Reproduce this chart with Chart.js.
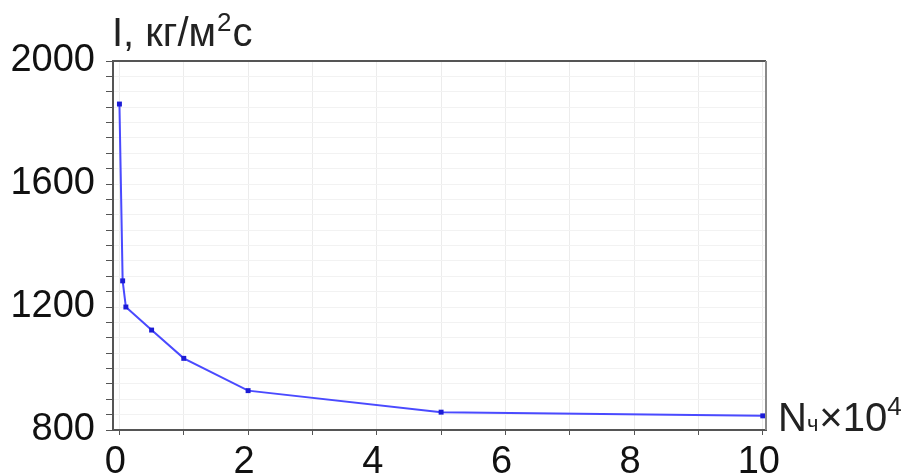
<!DOCTYPE html>
<html>
<head>
<meta charset="utf-8">
<script src="https://cdn.jsdelivr.net/npm/chart.js@4.4.1/dist/chart.umd.min.js"></script>
<style>
    html, body { margin: 0; padding: 0; background: #fff; }
    #wrap { width: 912px; height: 476px; position: relative; }
</style>
</head>
<body>
<div id="wrap"><canvas id="chart" width="912" height="476"></canvas></div>
<script>
// Data
const xValues = [0, 0.05, 0.1, 0.5, 1, 2, 5, 10];
const yValues = [1860, 1285, 1200, 1125, 1033, 928, 858, 846];
const xTicks = [0, 1, 2, 3, 4, 5, 6, 7, 8, 9, 10];
const xTickLabels = ['0', '', '2', '', '4', '', '6', '', '8', '', '10'];
const yTicks = [800, 850, 900, 950, 1000, 1050, 1100, 1150, 1200, 1250, 1300, 1350, 1400,
    1450, 1500, 1550, 1600, 1650, 1700, 1750, 1800, 1850, 1900, 1950, 2000];
const yTickLabels = { 800: '800', 1200: '1200', 1600: '1600', 2000: '2000' };

const fontFamily = '"Liberation Sans", Arial, sans-serif';

// Frame and axis titles
const extras = {
    id: 'extras',
    afterDraw(chart) {
        const ctx = chart.ctx;
        const a = chart.chartArea;
        ctx.save();
        // top and right border of the plot box
        ctx.lineWidth = 2;
        ctx.strokeStyle = '#555';
        ctx.beginPath();
        ctx.moveTo(a.left, a.top);
        ctx.lineTo(a.right, a.top);
        ctx.stroke();
        ctx.strokeStyle = '#8a8a8a';
        ctx.beginPath();
        ctx.moveTo(a.right, a.top);
        ctx.lineTo(a.right, a.bottom);
        ctx.stroke();

        ctx.fillStyle = '#222';
        ctx.textBaseline = 'alphabetic';
        ctx.textAlign = 'left';

        // y title: I, кг/м²с
        let x = a.left - 1;
        let y = 46;
        ctx.font = '40px ' + fontFamily;
        ctx.fillText('I, кг/м', x, y);
        x += ctx.measureText('I, кг/м').width + 1;
        ctx.font = '26px ' + fontFamily;
        ctx.fillText('2', x, y - 15);
        x += ctx.measureText('2').width + 1;
        ctx.font = '40px ' + fontFamily;
        ctx.fillText('с', x, y);

        // x title: Nч×10⁴
        x = a.right + 12;
        y = 431;
        ctx.font = '40px ' + fontFamily;
        ctx.fillText('N', x, y);
        x += ctx.measureText('N').width;
        ctx.font = '22px ' + fontFamily;
        ctx.fillText('ч', x, y);
        x += ctx.measureText('ч').width + 1;
        ctx.font = '40px ' + fontFamily;
        ctx.fillText('×10', x, y);
        x += ctx.measureText('×10').width;
        ctx.font = '26px ' + fontFamily;
        ctx.fillText('4', x, y - 16);
        ctx.restore();
    }
};

const ctx = document.getElementById('chart').getContext('2d');
const chart = new Chart(ctx, {
    type: 'line',
    data: {
        datasets: [{
            data: xValues.map((v, i) => ({ x: v, y: yValues[i] })),
            borderColor: '#4a4aff',
            borderWidth: 2,
            pointStyle: 'rect',
            pointRadius: 3.5,
            pointBackgroundColor: '#1c1cd6',
            pointBorderWidth: 0,
            tension: 0,
            clip: false
        }]
    },
    options: {
        responsive: false,
        animation: false,
        layout: {
            padding: { top: 61, right: 146, left: 0, bottom: 0 }
        },
        plugins: {
            legend: { display: false },
            tooltip: { enabled: false }
        },
        scales: {
            x: {
                type: 'linear',
                min: -0.1,
                max: 10.05,
                afterBuildTicks: s => { s.ticks = xTicks.map(v => ({ value: v })); },
                afterFit: s => { s.height = 46; },
                grid: {
                    color: '#ececec',
                    tickColor: '#555',
                    tickLength: 5
                },
                border: { color: '#555', width: 2 },
                ticks: {
                    autoSkip: false,
                    maxRotation: 0,
                    padding: 5,
                    labelOffset: -4,
                    color: '#111',
                    font: { family: fontFamily, size: 38 },
                    callback: (v, i) => xTickLabels[i]
                }
            },
            y: {
                min: 800,
                max: 2000,
                afterBuildTicks: s => { s.ticks = yTicks.map(v => ({ value: v })); },
                afterFit: s => { s.width = 113; },
                grid: {
                    color: '#f2f2f2',
                    tickColor: '#555',
                    tickLength: 7
                },
                border: { color: '#555', width: 2 },
                ticks: {
                    autoSkip: false,
                    padding: 11,
                    color: '#111',
                    font: { family: fontFamily, size: 38 },
                    callback: v => yTickLabels[v] || ''
                }
            }
        }
    },
    plugins: [extras]
});
</script>
</body>
</html>
